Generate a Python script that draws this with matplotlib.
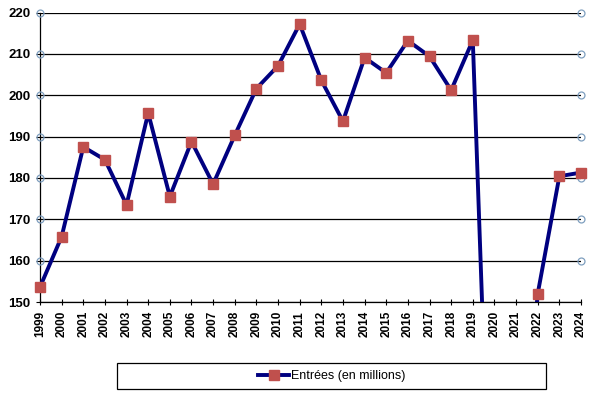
import matplotlib
matplotlib.use("Agg")
import matplotlib.pyplot as plt
from matplotlib.patches import Rectangle

years = [1999, 2000, 2001, 2002, 2003, 2004, 2005, 2006, 2007, 2008, 2009, 2010,
         2011, 2012, 2013, 2014, 2015, 2016, 2017, 2018, 2019, 2020, 2021, 2022,
         2023, 2024]
entrees = [153.6, 165.8, 187.5, 184.4, 173.5, 195.7, 175.5, 188.8, 178.5, 190.3,
           201.6, 207.1, 217.2, 203.6, 193.7, 209.1, 205.4, 213.2, 209.4, 201.2,
           213.3, 65.3, 96.0, 152.0, 180.4, 181.3]
series_label = "Entrées (en millions)"
y_ticks = [150, 160, 170, 180, 190, 200, 210, 220]

plt.rcParams['font.family'] = ['Liberation Sans', 'DejaVu Sans']

fig = plt.figure(figsize=(5.92, 3.94), dpi=100)
ax = fig.add_axes([40/592, 1-302/394, (581-40)/592, (302-12.5)/394])

ymin, ymax = 150, 220
xs = list(range(len(years)))
line_color = '#000080'
mk_color = '#c0504d'
ax.plot(xs, entrees, color=line_color, linewidth=2.8, solid_joinstyle='miter', zorder=3)
vis = [(x, v) for x, v in zip(xs, entrees) if ymin <= v <= ymax]
ax.plot([p[0] for p in vis], [p[1] for p in vis], linestyle='none', marker='s',
        markersize=7.5, markerfacecolor=mk_color, markeredgecolor=mk_color,
        clip_on=False, zorder=5)
# legend proxy
ax.plot([], [], color=line_color, linewidth=2.8, marker='s', markersize=7.5,
        markerfacecolor=mk_color, markeredgecolor=mk_color, label=series_label)

ax.set_xlim(0, len(years)-1)
ax.set_ylim(ymin, ymax)
ax.set_yticks(y_ticks)
ax.set_xticks(xs)
ax.set_xticklabels([str(y) for y in years], rotation=90, fontsize=8.5, fontweight='bold')
ax.set_yticklabels([str(v) for v in y_ticks], fontsize=9.5, fontweight='bold')
ax.tick_params(axis='x', direction='inout', length=5, width=0.8, pad=4)
ax.tick_params(axis='y', direction='out', length=3, width=0.8, pad=4)
ax.grid(axis='y', color='black', linewidth=0.9)
ax.set_axisbelow(True)
for s in ['top', 'right']:
    ax.spines[s].set_visible(False)
ax.spines['left'].set_linewidth(0.9)
ax.spines['bottom'].set_linewidth(0.9)

# Excel-style circle markers at gridline ends
circ = dict(linestyle='none', marker='o', markersize=5, markerfacecolor='none',
            markeredgecolor='#7f9fbf', markeredgewidth=0.9, clip_on=False, zorder=4)
ax.plot([0]*(len(y_ticks)-1), y_ticks[1:], transform=ax.get_yaxis_transform(), **circ)
ax.plot([1]*(len(y_ticks)-1), y_ticks[1:], transform=ax.get_yaxis_transform(), **circ)

# legend box
fig.patches.append(Rectangle((117/592, 1-389/394), (546-117)/592, 26/394,
                             transform=fig.transFigure, fill=False,
                             edgecolor='black', linewidth=0.9))
fig.legend(loc='center', bbox_to_anchor=((117+546)/2/592, 1-376/394),
           frameon=False, fontsize=9, handlelength=2.5, handletextpad=0.1,
           borderpad=0, borderaxespad=0)

fig.savefig('out.png', dpi=100)
